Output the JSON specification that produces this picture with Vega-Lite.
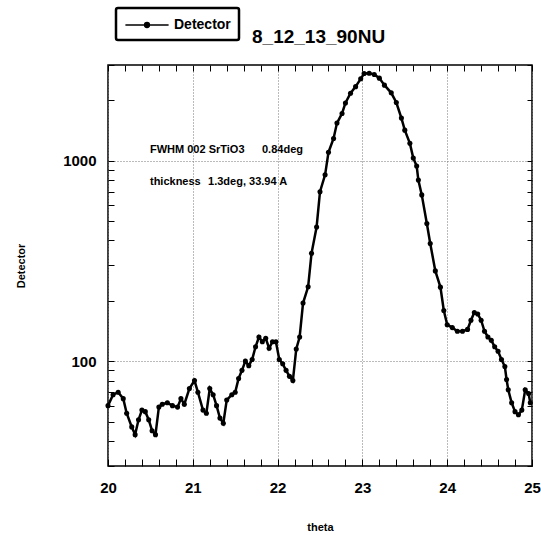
{
  "$schema": "https://vega.github.io/schema/vega-lite/v6.json",
  "autosize": {"type": "none"},
  "width": 424,
  "height": 401,
  "padding": {"left": 108, "top": 65, "right": 9, "bottom": 69},
  "background": "white",
  "config": {
    "view": {"stroke": "black", "strokeWidth": 1.5},
    "font": "Liberation Sans"
  },
  "title": {
    "text": "8_12_13_90NU",
    "anchor": "start",
    "frame": "group",
    "dx": 144,
    "dy": 40,
    "offset": 0,
    "fontSize": 19,
    "fontWeight": "bold",
    "font": "Liberation Sans",
    "color": "black"
  },
  "datasets": {
    "scan": [
      {"theta": 20.00, "Detector": 60},
      {"theta": 20.06, "Detector": 68},
      {"theta": 20.12, "Detector": 70},
      {"theta": 20.18, "Detector": 65},
      {"theta": 20.22, "Detector": 55},
      {"theta": 20.28, "Detector": 47},
      {"theta": 20.32, "Detector": 43},
      {"theta": 20.36, "Detector": 51},
      {"theta": 20.40, "Detector": 57},
      {"theta": 20.44, "Detector": 56},
      {"theta": 20.48, "Detector": 51},
      {"theta": 20.52, "Detector": 45},
      {"theta": 20.56, "Detector": 43},
      {"theta": 20.60, "Detector": 59},
      {"theta": 20.64, "Detector": 61},
      {"theta": 20.70, "Detector": 62},
      {"theta": 20.76, "Detector": 60},
      {"theta": 20.82, "Detector": 59},
      {"theta": 20.86, "Detector": 65},
      {"theta": 20.90, "Detector": 61},
      {"theta": 20.96, "Detector": 73},
      {"theta": 21.02, "Detector": 80},
      {"theta": 21.06, "Detector": 70},
      {"theta": 21.12, "Detector": 57},
      {"theta": 21.16, "Detector": 55},
      {"theta": 21.20, "Detector": 73},
      {"theta": 21.24, "Detector": 68},
      {"theta": 21.28, "Detector": 60},
      {"theta": 21.32, "Detector": 52},
      {"theta": 21.36, "Detector": 49},
      {"theta": 21.40, "Detector": 64},
      {"theta": 21.46, "Detector": 68},
      {"theta": 21.50, "Detector": 70},
      {"theta": 21.54, "Detector": 82},
      {"theta": 21.58, "Detector": 90},
      {"theta": 21.62, "Detector": 100},
      {"theta": 21.66, "Detector": 95},
      {"theta": 21.70, "Detector": 102},
      {"theta": 21.74, "Detector": 118},
      {"theta": 21.78, "Detector": 132},
      {"theta": 21.82, "Detector": 125},
      {"theta": 21.86, "Detector": 130},
      {"theta": 21.90, "Detector": 116},
      {"theta": 21.94, "Detector": 125},
      {"theta": 21.98, "Detector": 125},
      {"theta": 22.02, "Detector": 102},
      {"theta": 22.06, "Detector": 97},
      {"theta": 22.10, "Detector": 90},
      {"theta": 22.14, "Detector": 84},
      {"theta": 22.18, "Detector": 80},
      {"theta": 22.22, "Detector": 115},
      {"theta": 22.26, "Detector": 132},
      {"theta": 22.30, "Detector": 195},
      {"theta": 22.36, "Detector": 235},
      {"theta": 22.40, "Detector": 345},
      {"theta": 22.46, "Detector": 467},
      {"theta": 22.50, "Detector": 700},
      {"theta": 22.56, "Detector": 850},
      {"theta": 22.60, "Detector": 1100},
      {"theta": 22.66, "Detector": 1290},
      {"theta": 22.70, "Detector": 1540},
      {"theta": 22.76, "Detector": 1720},
      {"theta": 22.80, "Detector": 1940},
      {"theta": 22.86, "Detector": 2170},
      {"theta": 22.92, "Detector": 2340},
      {"theta": 22.98, "Detector": 2560},
      {"theta": 23.02, "Detector": 2720},
      {"theta": 23.08, "Detector": 2730},
      {"theta": 23.14, "Detector": 2690},
      {"theta": 23.20, "Detector": 2580},
      {"theta": 23.26, "Detector": 2380},
      {"theta": 23.34, "Detector": 2180},
      {"theta": 23.40, "Detector": 1950},
      {"theta": 23.46, "Detector": 1630},
      {"theta": 23.50, "Detector": 1420},
      {"theta": 23.56, "Detector": 1220},
      {"theta": 23.60, "Detector": 1030},
      {"theta": 23.64, "Detector": 940},
      {"theta": 23.66, "Detector": 800},
      {"theta": 23.70, "Detector": 675},
      {"theta": 23.76, "Detector": 486},
      {"theta": 23.80, "Detector": 386},
      {"theta": 23.86, "Detector": 282},
      {"theta": 23.92, "Detector": 234},
      {"theta": 23.96, "Detector": 179},
      {"theta": 24.00, "Detector": 152},
      {"theta": 24.06, "Detector": 147},
      {"theta": 24.12, "Detector": 141},
      {"theta": 24.18, "Detector": 141},
      {"theta": 24.24, "Detector": 144},
      {"theta": 24.28, "Detector": 160},
      {"theta": 24.32, "Detector": 175},
      {"theta": 24.36, "Detector": 172},
      {"theta": 24.40, "Detector": 160},
      {"theta": 24.44, "Detector": 141},
      {"theta": 24.48, "Detector": 132},
      {"theta": 24.52, "Detector": 127},
      {"theta": 24.56, "Detector": 118},
      {"theta": 24.60, "Detector": 112},
      {"theta": 24.64, "Detector": 102},
      {"theta": 24.68, "Detector": 94},
      {"theta": 24.70, "Detector": 81},
      {"theta": 24.72, "Detector": 72},
      {"theta": 24.76, "Detector": 62},
      {"theta": 24.80, "Detector": 56},
      {"theta": 24.84, "Detector": 54},
      {"theta": 24.88, "Detector": 57},
      {"theta": 24.92, "Detector": 72},
      {"theta": 24.96, "Detector": 69},
      {"theta": 24.98, "Detector": 62}
    ],
    "notes": [
      {"theta": 20.495, "Detector": 1130, "note": "FWHM 002 SrTiO3"},
      {"theta": 21.816, "Detector": 1130, "note": "0.84deg"},
      {"theta": 20.495, "Detector": 783, "note": "thickness"},
      {"theta": 21.18, "Detector": 783, "note": "1.3deg, 33.94 A"}
    ]
  },
  "layer": [
    {
      "data": {"name": "scan"},
      "mark": {
        "type": "line",
        "strokeWidth": 2.5,
        "point": {"filled": true, "size": 26}
      },
      "encoding": {
        "x": {
          "field": "theta",
          "type": "quantitative",
          "scale": {"domain": [20, 25], "nice": false, "zero": false},
          "axis": {
            "orient": "bottom",
            "title": "theta",
            "titleFont": "Liberation Sans",
            "titleFontSize": 11,
            "titleFontWeight": "bold",
            "titleColor": "black",
            "titlePadding": 26,
            "tickCount": 200,
            "tickMinStep": 0.1,
            "values": [20, 20.2, 20.4, 20.6, 20.8, 21, 21.2, 21.4, 21.6, 21.8, 22, 22.2, 22.4, 22.6, 22.8, 23, 23.2, 23.4, 23.6, 23.8, 24, 24.2, 24.4, 24.6, 24.8, 25],
            "labelExpr": "datum.value % 1 === 0 ? format(datum.value, 'd') : ''",
            "labelFont": "Liberation Sans",
            "labelFontSize": 15,
            "labelFontWeight": "bold",
            "labelColor": "black",
            "labelPadding": 21,
            "labelFlush": false,
            "labelOverlap": false,
            "domain": false,
            "tickColor": "black",
            "tickWidth": 1,
            "tickSize": -7,
            "grid": true,
            "gridColor": "#777777",
            "gridDash": [1, 2],
            "gridWidth": 1,
            "gridOpacity": {"condition": {"test": "datum.value % 1 === 0", "value": 1}, "value": 0}
          }
        },
        "y": {
          "field": "Detector",
          "type": "quantitative",
          "scale": {"type": "log", "domain": [30, 3000], "nice": false},
          "axis": {
            "orient": "left",
            "title": "Detector",
            "titleFont": "Liberation Sans",
            "titleFontSize": 11,
            "titleFontWeight": "bold",
            "titleColor": "black",
            "titlePadding": 36,
            "tickCount": 200,
            "values": [30, 40, 50, 60, 70, 80, 90, 100, 200, 300, 400, 500, 600, 700, 800, 900, 1000, 2000, 3000],
            "labelExpr": "datum.value === 100 ? '100' : datum.value === 1000 ? '1000' : ''",
            "labelFont": "Liberation Sans",
            "labelFontSize": 15,
            "labelFontWeight": "bold",
            "labelColor": "black",
            "labelPadding": 18,
            "labelFlush": false,
            "labelOverlap": false,
            "domain": false,
            "tickColor": "black",
            "tickSize": -6,
            "grid": true,
            "gridColor": "#777777",
            "gridDash": [1, 2],
            "gridWidth": 1,
            "gridOpacity": {"condition": {"test": "datum.value === 100 || datum.value === 1000", "value": 1}, "value": 0}
          }
        },
        "color": {
          "datum": "Detector",
          "type": "nominal",
          "scale": {"range": ["black"]},
          "legend": {
            "orient": "none",
            "legendX": 8,
            "legendY": -57,
            "title": null,
            "padding": 8,
            "strokeColor": "black",
            "cornerRadius": 2,
            "fillColor": "white",
            "symbolType": "M-2.7,0H2.7M-0.3,0A0.3,0.3 0 1,0 0.3,0A0.3,0.3 0 1,0 -0.3,0Z",
            "symbolSize": 256,
            "symbolOffset": 14,
            "symbolStrokeWidth": 1.5,
            "symbolStrokeColor": "black",
            "symbolFillColor": "black",
            "labelFont": "Liberation Sans",
            "labelFontSize": 14,
            "labelFontWeight": "bold",
            "labelColor": "black",
            "labelOffset": 18,
            "encode": {
              "legend": {"update": {"strokeWidth": {"value": 2.5}}}
            }
          }
        }
      }
    },
    {
      "data": {"name": "notes"},
      "mark": {
        "type": "text",
        "align": "left",
        "baseline": "middle",
        "font": "Liberation Sans",
        "fontSize": 11,
        "fontWeight": "bold",
        "color": "black"
      },
      "encoding": {
        "x": {
          "field": "theta",
          "type": "quantitative",
          "scale": {"domain": [20, 25], "nice": false, "zero": false},
          "axis": {
            "orient": "top",
            "title": null,
            "labels": false,
            "domain": false,
            "grid": false,
            "tickCount": 200,
            "tickMinStep": 0.1,
            "values": [20, 20.2, 20.4, 20.6, 20.8, 21, 21.2, 21.4, 21.6, 21.8, 22, 22.2, 22.4, 22.6, 22.8, 23, 23.2, 23.4, 23.6, 23.8, 24, 24.2, 24.4, 24.6, 24.8, 25],
            "tickColor": "black",
            "tickSize": -6
          }
        },
        "y": {
          "field": "Detector",
          "type": "quantitative",
          "scale": {"type": "log", "domain": [30, 3000], "nice": false},
          "axis": {
            "orient": "right",
            "title": null,
            "labels": false,
            "domain": false,
            "grid": false,
            "tickCount": 200,
            "values": [30, 40, 50, 60, 70, 80, 90, 100, 200, 300, 400, 500, 600, 700, 800, 900, 1000, 2000, 3000],
            "tickColor": "black",
            "tickSize": -5
          }
        },
        "text": {"field": "note", "type": "nominal"}
      }
    }
  ],
  "resolve": {"axis": {"x": "independent", "y": "independent"}}
}
